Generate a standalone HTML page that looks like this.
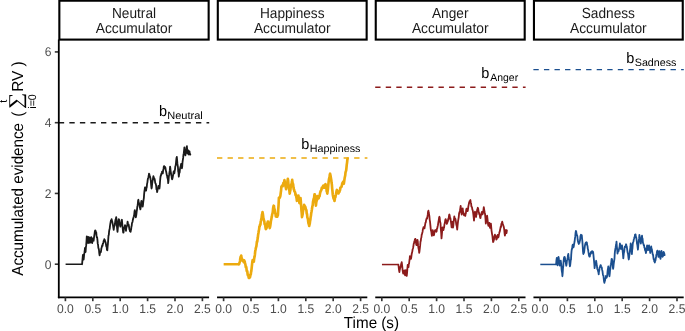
<!DOCTYPE html>
<html lang="en"><head><meta charset="utf-8"><title>Accumulator model</title>
<style>html,body{margin:0;padding:0;background:#fff;}svg{display:block;}</style></head>
<body>
<svg width="685" height="331" viewBox="0 0 685 331" font-family="'Liberation Sans', sans-serif" text-rendering="geometricPrecision">
<rect width="685" height="331" fill="#fff"/>
<g transform="translate(22.9,275.75) rotate(-90)" fill="#000" font-size="16">
<text transform="scale(0.949,1)" x="0" y="0">Accumulated evidence</text>
<text transform="translate(158.9,0) scale(0.958,1)">(</text>
<text transform="translate(166.72,-1.15) scale(1.177,1)" font-size="19.47" font-family="'Liberation Serif', serif">∑</text>
<text transform="translate(174.6,-15.6) scale(0.958,1)" font-size="11.2" text-anchor="middle">t</text>
<text transform="translate(174.3,13.1) scale(0.958,1)" font-size="11.1" text-anchor="middle">i=0</text>
<text transform="translate(183.9,0) scale(0.958,1)">RV )</text>
</g>
<text transform="translate(371.45,328.00) scale(0.95,1)" font-size="16.0" text-anchor="middle" fill="#000">Time (s)</text>
<line x1="54.8" x2="58.8" y1="264.20" y2="264.20" stroke="#333" stroke-width="1.6"/>
<text transform="translate(51.50,268.60) scale(0.96,1)" font-size="12.6" text-anchor="end" fill="#4d4d4d">0</text>
<line x1="54.8" x2="58.8" y1="193.44" y2="193.44" stroke="#333" stroke-width="1.6"/>
<text transform="translate(51.50,197.84) scale(0.96,1)" font-size="12.6" text-anchor="end" fill="#4d4d4d">2</text>
<line x1="54.8" x2="58.8" y1="122.68" y2="122.68" stroke="#333" stroke-width="1.6"/>
<text transform="translate(51.50,127.08) scale(0.96,1)" font-size="12.6" text-anchor="end" fill="#4d4d4d">4</text>
<line x1="54.8" x2="58.8" y1="51.92" y2="51.92" stroke="#333" stroke-width="1.6"/>
<text transform="translate(51.50,56.32) scale(0.96,1)" font-size="12.6" text-anchor="end" fill="#4d4d4d">6</text>
<line x1="58.80" x2="209.20" y1="122.68" y2="122.68" stroke="#1a1a1a" stroke-width="1.45" stroke-dasharray="5.35 5.2"/>
<polyline points="65.60,264.25 82.10,264.25" fill="none" stroke="#1a1a1a" stroke-width="1.5" stroke-linecap="butt"/>
<polyline points="82.10,264.25 82.37,260.94 82.63,257.99 82.90,254.96 83.25,257.07 83.60,259.66 83.88,257.46 84.16,254.09 84.44,252.48 84.72,250.36 85.00,247.86 85.30,248.93 85.60,252.01 85.90,247.29 86.20,245.14 86.50,240.99 86.80,236.32 87.10,240.81 87.40,242.98 87.67,241.19 87.93,239.26 88.20,236.90 88.55,238.99 88.90,243.17 89.17,240.26 89.43,238.74 89.70,237.46 89.97,238.19 90.23,240.90 90.50,242.61 90.77,241.64 91.03,239.03 91.30,237.25 91.60,239.15 91.90,241.54 92.20,243.12 92.47,240.95 92.73,241.01 93.00,238.51 93.30,240.22 93.60,240.80 93.92,238.11 94.24,235.80 94.56,233.84 94.88,231.22 95.20,230.34 95.53,230.61 95.87,232.38 96.20,232.17 96.51,235.43 96.82,237.25 97.13,237.30 97.44,239.88 97.75,243.64 98.05,244.67 98.36,247.98 98.67,248.66 98.98,249.96 99.29,253.38 99.60,255.35 99.89,253.61 100.19,252.18 100.48,251.79 100.77,252.31 101.07,250.83 101.36,248.31 101.66,247.63 101.95,246.29 102.24,245.21 102.54,245.99 102.83,243.51 103.12,243.44 103.42,242.19 103.71,240.58 104.01,240.89 104.30,239.08 104.58,240.49 104.87,240.03 105.15,241.56 105.43,241.86 105.72,242.80 106.00,244.49 106.33,246.48 106.65,246.88 106.97,249.87 107.30,250.34 107.60,246.62 107.90,244.05 108.20,239.87 108.50,235.56 108.80,235.11 109.10,231.33 109.40,229.53 109.70,228.85 110.00,225.87 110.30,223.88 110.60,222.14 110.93,220.43 111.27,220.58 111.60,219.16 111.88,220.64 112.15,221.14 112.42,222.39 112.70,223.88 113.03,225.54 113.37,227.80 113.70,229.91 114.01,227.29 114.33,225.62 114.64,225.83 114.95,224.01 115.26,221.05 115.58,219.31 115.89,219.02 116.20,217.17 116.53,219.85 116.85,225.38 117.17,228.94 117.50,231.82 117.83,228.34 118.15,224.35 118.47,220.97 118.80,219.18 119.12,219.76 119.44,222.42 119.76,222.89 120.08,225.79 120.40,226.62 120.70,224.73 121.00,223.13 121.30,223.12 121.60,220.24 121.90,219.75 122.23,223.29 122.55,227.20 122.88,229.82 123.20,232.59 123.50,232.55 123.80,229.64 124.10,227.99 124.40,227.40 124.70,226.62 125.00,225.23 125.33,226.51 125.67,228.70 126.00,230.80 126.32,228.01 126.64,226.70 126.96,226.11 127.28,224.46 127.60,221.56 127.90,223.15 128.20,224.13 128.50,224.31 128.80,225.29 129.10,227.30 129.40,229.45 129.70,229.77 130.00,231.22 130.30,229.78 130.60,231.85 130.88,230.16 131.15,229.20 131.42,226.67 131.70,225.91 132.00,222.98 132.30,222.56 132.60,221.47 132.90,219.64 133.22,218.64 133.55,217.29 133.88,216.23 134.20,214.55 134.50,211.74 134.80,210.08 135.10,212.76 135.40,213.92 135.80,217.29 136.09,216.08 136.38,214.29 136.67,211.62 136.96,209.78 137.24,207.23 137.53,205.75 137.82,203.84 138.11,200.61 138.40,199.75 138.69,202.23 138.97,203.36 139.26,204.40 139.54,204.98 139.83,207.21 140.11,208.24 140.40,209.41 140.73,207.36 141.07,202.65 141.40,200.93 141.72,201.15 142.05,204.04 142.38,205.28 142.70,206.66 142.99,204.89 143.27,201.97 143.56,199.81 143.85,198.11 144.14,194.08 144.43,191.05 144.71,189.31 145.00,187.48 145.28,187.41 145.55,188.11 145.82,190.65 146.10,190.57 146.42,188.25 146.74,187.27 147.06,183.85 147.38,182.61 147.70,179.93 148.02,178.28 148.35,177.48 148.68,176.04 149.00,173.62 149.30,174.21 149.60,175.82 149.90,176.31 150.20,177.01 150.50,179.01 150.80,180.39 151.15,185.09 151.50,188.50 151.82,187.45 152.13,183.85 152.45,181.61 152.77,180.30 153.08,177.89 153.40,176.24 153.70,176.98 154.00,178.23 154.30,178.66 154.60,178.97 154.90,180.39 155.21,182.99 155.53,183.41 155.84,184.19 156.16,185.77 156.47,189.47 156.79,189.16 157.10,192.10 157.43,190.72 157.75,188.69 158.07,188.45 158.40,186.00 158.73,186.31 159.07,187.91 159.40,188.51 159.70,186.54 160.00,182.02 160.30,178.69 160.60,176.12 160.90,175.74 161.20,174.28 161.50,173.70 161.80,172.74 162.10,171.57 162.45,173.45 162.80,173.48 163.13,170.43 163.47,168.89 163.80,166.52 164.10,166.08 164.40,167.68 164.70,168.40 164.95,166.98 165.20,167.09 165.51,168.29 165.82,170.55 166.14,171.54 166.45,173.17 166.76,174.93 167.07,175.47 167.39,177.84 167.70,178.84 167.95,179.66 168.20,183.06 168.52,180.62 168.83,176.53 169.15,174.64 169.47,172.38 169.78,170.40 170.10,166.66 170.39,168.74 170.67,171.32 170.96,172.95 171.24,175.13 171.53,175.81 171.81,178.08 172.10,179.34 172.40,178.63 172.70,177.41 173.00,175.54 173.30,174.27 173.60,171.61 173.90,171.14 174.15,173.00 174.40,173.19 174.70,170.95 175.00,169.57 175.30,166.46 175.60,165.88 175.90,163.77 176.20,160.56 176.50,157.94 176.80,156.91 177.09,159.86 177.37,163.17 177.66,165.28 177.94,166.96 178.23,171.62 178.51,172.62 178.80,176.67 179.09,174.06 179.38,172.85 179.66,172.34 179.95,169.19 180.24,167.61 180.53,166.89 180.81,165.79 181.10,163.89 181.37,165.64 181.63,167.79 181.90,168.24 182.21,166.73 182.53,162.06 182.84,159.78 183.15,157.91 183.46,154.75 183.78,153.20 184.09,150.38 184.40,147.47 184.73,150.97 185.07,152.99 185.40,155.41 185.70,153.34 186.00,152.54 186.30,150.75 186.60,147.17 186.90,146.20 187.25,150.92 187.60,153.67 187.95,152.33 188.30,150.43 188.60,152.74 188.90,154.65 189.20,153.40 189.50,151.31 189.77,153.78 190.03,153.69 190.30,154.58" fill="none" stroke="#1a1a1a" stroke-width="1.8" stroke-linejoin="round" stroke-linecap="round"/>
<line x1="57.90" x2="209.10" y1="297.4" y2="297.4" stroke="#000" stroke-width="1.8"/>
<line x1="65.40" x2="65.40" y1="297.4" y2="301.2" stroke="#333" stroke-width="1.65"/>
<text transform="translate(65.40,312.60) scale(0.96,1)" font-size="12.6" text-anchor="middle" fill="#4d4d4d">0.0</text>
<line x1="92.80" x2="92.80" y1="297.4" y2="301.2" stroke="#333" stroke-width="1.65"/>
<text transform="translate(92.80,312.60) scale(0.96,1)" font-size="12.6" text-anchor="middle" fill="#4d4d4d">0.5</text>
<line x1="120.20" x2="120.20" y1="297.4" y2="301.2" stroke="#333" stroke-width="1.65"/>
<text transform="translate(120.20,312.60) scale(0.96,1)" font-size="12.6" text-anchor="middle" fill="#4d4d4d">1.0</text>
<line x1="147.60" x2="147.60" y1="297.4" y2="301.2" stroke="#333" stroke-width="1.65"/>
<text transform="translate(147.60,312.60) scale(0.96,1)" font-size="12.6" text-anchor="middle" fill="#4d4d4d">1.5</text>
<line x1="175.00" x2="175.00" y1="297.4" y2="301.2" stroke="#333" stroke-width="1.65"/>
<text transform="translate(175.00,312.60) scale(0.96,1)" font-size="12.6" text-anchor="middle" fill="#4d4d4d">2.0</text>
<line x1="202.40" x2="202.40" y1="297.4" y2="301.2" stroke="#333" stroke-width="1.65"/>
<text transform="translate(202.40,312.60) scale(0.96,1)" font-size="12.6" text-anchor="middle" fill="#4d4d4d">2.5</text>
<rect x="59.35" y="0.7" width="149.30" height="38.90" fill="#fff" stroke="#000" stroke-width="2.1"/>
<text transform="translate(134.00,17.60) scale(0.94,1)" font-size="14.55" text-anchor="middle" fill="#1a1a1a">Neutral</text>
<text transform="translate(134.00,32.60) scale(0.948,1)" font-size="14.55" text-anchor="middle" fill="#1a1a1a">Accumulator</text>
<text transform="translate(202.79,118.80) scale(1.0432,1)" font-size="10.6" text-anchor="end" fill="#000">Neutral</text>
<text transform="translate(158.92,115.80) scale(0.96,1)" font-size="15.1" text-anchor="start" fill="#000">b</text>
<line x1="217.00" x2="367.40" y1="158.06" y2="158.06" stroke="#ECAA0E" stroke-width="1.45" stroke-dasharray="5.35 5.2"/>
<polyline points="223.65,264.25 239.10,264.25" fill="none" stroke="#ECAA0E" stroke-width="2.45" stroke-linecap="butt"/>
<polyline points="239.10,264.25 239.40,262.96 239.70,262.17 240.00,260.96 240.30,258.48 240.60,256.93 240.90,256.58 241.20,255.49 241.48,257.43 241.76,258.19 242.04,259.01 242.32,259.95 242.60,260.97 242.90,260.10 243.20,260.91 243.50,260.34 243.80,262.22 244.10,260.29 244.40,262.22 244.70,261.24 244.97,263.35 245.25,263.86 245.53,265.37 245.80,267.20 246.10,266.73 246.40,267.78 246.70,270.77 247.00,270.73 247.30,271.36 247.60,274.12 247.90,275.32 248.20,274.62 248.50,276.67 248.80,277.89 249.08,277.40 249.36,277.84 249.64,276.44 249.92,277.42 250.20,276.33 250.47,274.49 250.75,274.66 251.03,272.29 251.30,271.09 251.63,268.38 251.97,265.09 252.30,262.07 252.63,260.19 252.97,261.03 253.30,259.99 253.55,261.79 253.80,261.77 254.08,259.39 254.37,257.49 254.65,256.36 254.93,254.40 255.22,251.14 255.50,249.96 255.79,248.32 256.07,247.18 256.36,246.39 256.64,244.15 256.93,241.52 257.21,241.92 257.50,239.60 257.82,237.55 258.13,234.68 258.45,233.03 258.77,230.78 259.08,229.55 259.40,226.46 259.73,226.17 260.07,224.58 260.40,224.79 260.70,221.78 261.00,220.60 261.30,219.00 261.60,217.95 261.90,214.79 262.20,214.01 262.50,212.14 262.80,213.47 263.10,215.57 263.40,218.37 263.70,218.86 264.00,220.88 264.30,221.01 264.60,224.08 264.90,224.00 265.20,224.83 265.50,227.43 265.80,229.08 266.10,228.99 266.39,227.68 266.67,227.77 266.96,225.63 267.24,224.27 267.53,222.60 267.81,221.56 268.10,221.64 268.42,224.05 268.74,225.43 269.06,225.58 269.38,225.77 269.70,228.12 270.01,227.20 270.32,225.57 270.64,223.37 270.95,220.65 271.26,219.63 271.57,217.77 271.89,216.39 272.20,214.18 272.50,213.64 272.80,211.74 273.10,208.20 273.40,206.73 273.70,205.72 273.98,206.12 274.25,208.92 274.52,209.09 274.80,210.39 275.13,212.81 275.47,213.70 275.80,216.30 276.10,215.72 276.40,216.60 276.70,216.49 277.00,214.99 277.30,216.66 277.60,215.40 277.90,215.26 278.23,209.39 278.57,204.80 278.90,197.79 279.20,197.65 279.50,197.96 279.80,197.66 280.10,196.78 280.40,195.69 280.73,192.86 281.07,190.51 281.40,186.66 281.72,186.44 282.04,185.68 282.36,185.53 282.68,186.22 283.00,185.50 283.30,183.15 283.60,183.67 283.90,183.00 284.20,181.60 284.50,180.04 284.82,182.70 285.14,183.75 285.46,186.32 285.78,187.30 286.10,189.26 286.38,187.40 286.67,185.50 286.95,185.19 287.23,182.80 287.52,180.65 287.80,178.84 288.12,180.33 288.43,183.80 288.75,186.68 289.07,188.43 289.38,190.56 289.70,193.58 290.01,191.49 290.32,190.62 290.64,187.58 290.95,185.72 291.26,184.51 291.57,183.69 291.89,182.11 292.20,179.86 292.52,182.75 292.84,183.35 293.16,184.50 293.48,187.56 293.80,189.51 294.09,189.51 294.37,191.41 294.66,191.35 294.94,191.84 295.23,192.78 295.51,194.99 295.80,194.30 296.07,195.86 296.35,197.22 296.62,198.58 296.90,200.80 297.20,199.16 297.50,199.82 297.80,197.79 298.10,197.25 298.40,195.51 298.73,198.03 299.07,200.74 299.40,203.10 299.67,200.97 299.95,200.20 300.23,199.88 300.50,197.99 300.80,200.94 301.10,205.52 301.40,209.90 301.70,212.86 302.00,217.07 302.30,215.63 302.60,214.66 302.90,211.94 303.20,210.53 303.50,208.02 303.80,207.22 304.10,204.82 304.39,205.62 304.67,205.96 304.96,206.50 305.24,206.76 305.53,207.65 305.81,209.08 306.10,209.47 306.41,210.22 306.72,213.70 307.03,214.12 307.34,217.34 307.65,218.19 307.96,219.34 308.27,222.17 308.58,223.88 308.89,224.16 309.20,225.98 309.49,224.80 309.78,223.49 310.07,221.14 310.36,219.78 310.64,217.10 310.93,215.80 311.22,213.16 311.51,211.72 311.80,210.06 312.10,208.01 312.40,206.19 312.70,205.31 313.00,201.92 313.30,200.64 313.60,198.92 313.90,199.30 314.20,196.88 314.50,194.42 314.80,194.39 315.07,197.87 315.35,200.57 315.62,202.29 315.90,205.62 316.20,203.14 316.50,200.90 316.80,200.81 317.10,198.89 317.40,196.04 317.72,197.76 318.05,196.31 318.38,197.59 318.70,198.30 319.00,196.81 319.30,195.74 319.60,196.02 319.90,193.96 320.20,192.66 320.50,191.59 320.80,190.85 321.10,190.51 321.41,189.82 321.73,187.92 322.04,188.64 322.36,187.59 322.67,186.70 322.99,186.20 323.30,185.56 323.60,186.91 323.90,186.93 324.20,187.75 324.52,186.70 324.85,186.22 325.18,184.76 325.50,184.09 325.80,185.72 326.10,187.73 326.40,188.22 326.70,191.30 327.00,191.80 327.30,193.61 327.58,191.41 327.87,189.65 328.15,186.59 328.43,183.57 328.72,181.12 329.00,179.03 329.27,178.33 329.55,177.31 329.83,174.39 330.10,173.73 330.40,174.95 330.70,176.73 331.00,178.51 331.30,180.23 331.60,183.07 331.88,184.78 332.16,188.61 332.44,190.91 332.72,194.21 333.00,195.88 333.30,197.16 333.60,198.67 333.90,197.48 334.20,198.98 334.50,200.96 334.80,199.29 335.10,197.35 335.40,197.37 335.70,195.27 336.00,194.25 336.30,192.41 336.60,190.93 336.90,189.95 337.22,191.09 337.54,192.50 337.86,193.16 338.18,193.21 338.50,193.46 338.81,192.11 339.12,191.24 339.43,192.03 339.74,190.55 340.06,190.00 340.37,187.71 340.68,187.52 340.99,187.42 341.30,186.92 341.58,186.67 341.87,185.63 342.15,183.77 342.43,183.00 342.72,183.29 343.00,181.90 343.27,182.21 343.53,182.22 343.80,183.74 344.08,182.10 344.36,180.04 344.64,178.08 344.92,176.81 345.20,175.53 345.52,172.48 345.85,171.40 346.18,170.31 346.50,167.33 346.79,164.38 347.07,162.60 347.36,159.67 347.65,158.62" fill="none" stroke="#ECAA0E" stroke-width="2.65" stroke-linejoin="round" stroke-linecap="round"/>
<line x1="217.05" x2="367.30" y1="297.4" y2="297.4" stroke="#000" stroke-width="1.8"/>
<line x1="223.60" x2="223.60" y1="297.4" y2="301.2" stroke="#333" stroke-width="1.65"/>
<text transform="translate(223.60,312.60) scale(0.96,1)" font-size="12.6" text-anchor="middle" fill="#4d4d4d">0.0</text>
<line x1="251.00" x2="251.00" y1="297.4" y2="301.2" stroke="#333" stroke-width="1.65"/>
<text transform="translate(251.00,312.60) scale(0.96,1)" font-size="12.6" text-anchor="middle" fill="#4d4d4d">0.5</text>
<line x1="278.40" x2="278.40" y1="297.4" y2="301.2" stroke="#333" stroke-width="1.65"/>
<text transform="translate(278.40,312.60) scale(0.96,1)" font-size="12.6" text-anchor="middle" fill="#4d4d4d">1.0</text>
<line x1="305.80" x2="305.80" y1="297.4" y2="301.2" stroke="#333" stroke-width="1.65"/>
<text transform="translate(305.80,312.60) scale(0.96,1)" font-size="12.6" text-anchor="middle" fill="#4d4d4d">1.5</text>
<line x1="333.20" x2="333.20" y1="297.4" y2="301.2" stroke="#333" stroke-width="1.65"/>
<text transform="translate(333.20,312.60) scale(0.96,1)" font-size="12.6" text-anchor="middle" fill="#4d4d4d">2.0</text>
<line x1="360.60" x2="360.60" y1="297.4" y2="301.2" stroke="#333" stroke-width="1.65"/>
<text transform="translate(360.60,312.60) scale(0.96,1)" font-size="12.6" text-anchor="middle" fill="#4d4d4d">2.5</text>
<rect x="217.80" y="0.7" width="148.85" height="38.90" fill="#fff" stroke="#000" stroke-width="2.1"/>
<text transform="translate(292.23,17.60) scale(0.94,1)" font-size="14.55" text-anchor="middle" fill="#1a1a1a">Happiness</text>
<text transform="translate(292.23,32.60) scale(0.948,1)" font-size="14.55" text-anchor="middle" fill="#1a1a1a">Accumulator</text>
<text transform="translate(360.49,152.20) scale(1.0157,1)" font-size="10.6" text-anchor="end" fill="#000">Happiness</text>
<text transform="translate(301.32,149.20) scale(0.96,1)" font-size="15.1" text-anchor="start" fill="#000">b</text>
<line x1="375.20" x2="525.60" y1="87.30" y2="87.30" stroke="#8C1B1B" stroke-width="1.45" stroke-dasharray="5.35 5.2"/>
<polyline points="381.96,264.55 398.30,264.55" fill="none" stroke="#8C1B1B" stroke-width="1.5" stroke-linecap="butt"/>
<polyline points="398.30,264.55 398.57,265.82 398.85,268.69 399.12,270.54 399.40,272.20 399.69,270.01 399.97,268.93 400.26,267.54 400.55,266.54 400.84,266.57 401.12,263.94 401.41,263.71 401.70,262.24 402.00,264.28 402.30,266.93 402.60,270.22 402.90,271.99 403.20,273.70 403.48,272.56 403.75,271.30 404.02,272.09 404.30,270.47 404.57,272.62 404.83,274.30 405.10,275.33 405.45,273.58 405.80,270.06 406.12,271.28 406.43,274.72 406.75,275.89 407.07,272.86 407.38,268.75 407.70,264.90 407.97,265.39 408.23,266.31 408.50,267.12 408.78,264.09 409.06,263.54 409.34,261.25 409.62,259.46 409.90,256.19 410.23,257.21 410.57,258.71 410.90,258.89 411.17,258.02 411.45,255.91 411.73,253.72 412.00,252.74 412.29,251.62 412.57,249.59 412.86,248.70 413.14,247.66 413.43,245.77 413.71,243.75 414.00,243.24 414.32,241.54 414.65,240.47 414.98,239.29 415.30,238.85 415.62,239.50 415.95,242.46 416.28,244.76 416.60,245.17 416.90,244.08 417.20,242.89 417.50,239.82 417.78,241.42 418.07,245.15 418.35,247.36 418.63,249.02 418.92,250.00 419.20,252.89 419.52,251.01 419.85,248.23 420.18,245.20 420.50,241.44 420.80,240.94 421.10,238.23 421.40,237.49 421.70,234.54 422.00,234.19 422.30,232.76 422.60,231.70 422.90,229.14 423.20,228.77 423.50,227.21 423.83,227.70 424.17,227.48 424.50,228.31 424.82,226.23 425.14,224.58 425.46,222.72 425.78,222.43 426.10,220.17 426.43,219.12 426.77,218.08 427.10,218.55 427.43,216.66 427.75,214.70 428.07,211.57 428.40,210.71 428.72,212.55 429.05,214.12 429.38,216.08 429.70,219.81 430.03,221.64 430.37,225.17 430.70,228.58 431.00,230.76 431.30,231.29 431.60,234.00 431.90,235.75 432.17,234.79 432.43,230.93 432.70,230.13 432.98,231.52 433.25,233.93 433.52,234.12 433.80,235.33 434.10,234.64 434.40,232.62 434.70,230.87 435.00,230.87 435.30,230.05 435.63,230.99 435.97,230.50 436.30,231.88 436.62,231.37 436.94,228.73 437.26,228.30 437.58,226.52 437.90,225.47 438.20,223.38 438.50,221.42 438.80,220.01 439.10,217.50 439.40,216.78 439.67,217.53 439.95,220.82 440.23,222.11 440.50,223.19 440.83,229.17 441.17,232.74 441.50,238.44 441.83,234.98 442.17,230.85 442.50,227.50 442.83,228.19 443.17,228.18 443.50,230.01 443.80,227.35 444.10,227.58 444.40,224.66 444.70,223.39 445.00,222.12 445.30,219.80 445.60,219.18 445.90,219.94 446.20,220.95 446.50,222.81 446.80,223.91 447.10,223.22 447.39,222.55 447.68,220.49 447.96,221.02 448.25,218.77 448.54,219.06 448.82,217.13 449.11,215.04 449.40,214.49 449.72,215.65 450.05,218.53 450.38,218.21 450.70,220.43 451.00,222.38 451.30,224.54 451.60,227.37 451.87,224.63 452.13,224.01 452.40,221.77 452.70,225.69 453.00,227.66 453.32,225.83 453.65,221.86 453.98,219.35 454.30,216.44 454.62,218.21 454.94,219.38 455.26,218.55 455.58,219.64 455.90,221.57 456.22,224.22 456.55,225.48 456.88,226.84 457.20,229.58 457.50,226.31 457.80,223.36 458.10,220.83 458.40,219.11 458.75,217.09 459.10,213.37 459.41,212.63 459.72,211.45 460.03,210.23 460.34,208.23 460.65,205.90 460.91,208.42 461.17,211.10 461.44,212.99 461.70,214.50 462.03,213.21 462.37,209.58 462.70,208.31 463.03,211.54 463.37,212.18 463.70,213.98 464.02,215.23 464.34,214.83 464.66,214.16 464.98,214.62 465.30,215.98 465.60,213.82 465.90,213.35 466.20,209.77 466.50,208.70 466.82,209.82 467.15,209.30 467.48,211.21 467.80,210.74 468.07,208.71 468.35,206.38 468.62,205.06 468.90,203.64 469.20,202.82 469.50,201.38 469.80,201.19 470.10,200.81 470.40,200.03 470.73,202.49 471.07,203.27 471.40,206.68 471.72,206.70 472.04,207.54 472.36,209.72 472.68,210.07 473.00,211.83 473.33,214.48 473.67,217.47 474.00,220.59 474.33,216.73 474.67,215.07 475.00,211.66 475.27,212.68 475.55,215.25 475.83,214.30 476.10,217.01 476.38,214.34 476.67,214.47 476.95,211.27 477.23,209.48 477.52,209.00 477.80,207.76 478.12,208.42 478.45,210.52 478.78,212.36 479.10,213.47 479.38,214.64 479.66,214.31 479.94,216.29 480.22,217.95 480.50,218.13 480.78,216.24 481.06,214.49 481.34,214.71 481.62,212.72 481.90,211.85 482.20,213.68 482.50,214.36 482.82,213.72 483.15,211.84 483.48,209.64 483.80,207.19 484.10,209.06 484.40,210.83 484.70,212.38 485.00,213.72 485.27,216.30 485.53,219.24 485.80,223.51 486.12,221.66 486.45,218.44 486.78,217.92 487.10,215.73 487.43,218.25 487.75,221.46 488.07,224.28 488.40,225.86 488.73,225.67 489.07,223.88 489.40,222.90 489.70,225.04 490.00,227.96 490.30,226.18 490.60,226.07 490.90,223.53 491.20,226.90 491.50,230.31 491.80,232.28 492.12,234.35 492.45,236.14 492.78,239.60 493.10,242.09 493.40,241.65 493.70,240.33 494.00,239.57 494.30,237.02 494.60,235.69 494.90,234.70 495.18,236.25 495.46,235.64 495.74,236.97 496.02,237.80 496.30,239.52 496.58,238.25 496.86,238.93 497.14,236.19 497.42,237.01 497.70,234.90 498.00,234.94 498.30,237.39 498.60,236.55 498.90,234.64 499.20,233.39 499.50,231.96 499.80,231.44 500.10,229.74 500.40,228.33 500.70,226.70 501.00,227.06 501.30,224.22 501.60,223.37 501.90,222.89 502.20,221.73 502.48,222.75 502.76,223.79 503.04,224.69 503.32,225.84 503.60,226.30 503.93,227.60 504.25,229.73 504.57,233.47 504.90,235.56 505.17,234.18 505.45,233.38 505.73,230.49 506.00,230.00 506.25,231.32 506.50,233.09 506.90,230.47" fill="none" stroke="#8C1B1B" stroke-width="1.8" stroke-linejoin="round" stroke-linecap="round"/>
<line x1="375.25" x2="525.50" y1="297.4" y2="297.4" stroke="#000" stroke-width="1.8"/>
<line x1="381.80" x2="381.80" y1="297.4" y2="301.2" stroke="#333" stroke-width="1.65"/>
<text transform="translate(381.80,312.60) scale(0.96,1)" font-size="12.6" text-anchor="middle" fill="#4d4d4d">0.0</text>
<line x1="409.20" x2="409.20" y1="297.4" y2="301.2" stroke="#333" stroke-width="1.65"/>
<text transform="translate(409.20,312.60) scale(0.96,1)" font-size="12.6" text-anchor="middle" fill="#4d4d4d">0.5</text>
<line x1="436.60" x2="436.60" y1="297.4" y2="301.2" stroke="#333" stroke-width="1.65"/>
<text transform="translate(436.60,312.60) scale(0.96,1)" font-size="12.6" text-anchor="middle" fill="#4d4d4d">1.0</text>
<line x1="464.00" x2="464.00" y1="297.4" y2="301.2" stroke="#333" stroke-width="1.65"/>
<text transform="translate(464.00,312.60) scale(0.96,1)" font-size="12.6" text-anchor="middle" fill="#4d4d4d">1.5</text>
<line x1="491.40" x2="491.40" y1="297.4" y2="301.2" stroke="#333" stroke-width="1.65"/>
<text transform="translate(491.40,312.60) scale(0.96,1)" font-size="12.6" text-anchor="middle" fill="#4d4d4d">2.0</text>
<line x1="518.80" x2="518.80" y1="297.4" y2="301.2" stroke="#333" stroke-width="1.65"/>
<text transform="translate(518.80,312.60) scale(0.96,1)" font-size="12.6" text-anchor="middle" fill="#4d4d4d">2.5</text>
<rect x="375.75" y="0.7" width="148.95" height="38.90" fill="#fff" stroke="#000" stroke-width="2.1"/>
<text transform="translate(450.23,17.60) scale(0.94,1)" font-size="14.55" text-anchor="middle" fill="#1a1a1a">Anger</text>
<text transform="translate(450.23,32.60) scale(0.948,1)" font-size="14.55" text-anchor="middle" fill="#1a1a1a">Accumulator</text>
<text transform="translate(518.17,81.40) scale(0.9862,1)" font-size="10.6" text-anchor="end" fill="#000">Anger</text>
<text transform="translate(481.32,78.40) scale(0.96,1)" font-size="15.1" text-anchor="start" fill="#000">b</text>
<line x1="533.40" x2="683.80" y1="69.61" y2="69.61" stroke="#1B4F8F" stroke-width="1.45" stroke-dasharray="5.35 5.2"/>
<polyline points="540.30,264.45 556.10,264.45" fill="none" stroke="#1B4F8F" stroke-width="1.5" stroke-linecap="butt"/>
<polyline points="556.10,264.45 556.45,260.16 556.80,257.90 557.07,260.68 557.33,263.94 557.60,265.29 557.90,261.96 558.20,260.21 558.50,256.86 558.80,258.45 559.10,261.54 559.40,263.03 559.70,265.65 560.03,262.83 560.37,261.39 560.70,260.64 560.98,262.66 561.27,265.07 561.55,269.03 561.83,271.27 562.12,272.76 562.40,276.29 562.68,273.26 562.96,268.69 563.24,266.47 563.52,261.83 563.80,259.23 564.10,257.48 564.40,256.91 564.70,257.09 565.02,258.26 565.34,261.41 565.66,261.82 565.98,263.97 566.30,265.72 566.63,263.87 566.97,260.45 567.30,259.41 567.63,257.94 567.97,255.12 568.30,253.86 568.62,257.53 568.94,259.14 569.26,260.86 569.58,263.96 569.90,266.35 570.17,265.47 570.45,262.95 570.73,260.20 571.00,259.58 571.25,254.61 571.50,251.69 571.83,248.92 572.15,248.83 572.47,245.52 572.80,244.67 573.15,244.97 573.50,247.24 573.77,246.27 574.05,244.48 574.33,242.87 574.60,241.54 574.92,238.72 575.25,236.43 575.58,232.55 575.90,230.83 576.20,231.37 576.50,234.03 576.80,235.35 577.10,235.14 577.38,236.39 577.65,239.54 577.93,241.02 578.20,242.30 578.50,243.27 578.80,243.97 579.10,242.84 579.40,243.04 579.73,241.39 580.05,240.35 580.38,236.81 580.70,235.31 580.98,234.70 581.25,235.76 581.52,235.38 581.80,235.27 582.10,238.88 582.40,241.73 582.70,246.10 583.00,251.41 583.30,254.01 583.63,252.39 583.97,252.93 584.30,250.75 584.57,248.45 584.85,246.13 585.12,244.60 585.40,243.43 585.70,242.80 586.00,244.15 586.30,242.48 586.60,242.25 586.90,242.72 587.20,245.49 587.50,245.83 587.80,248.80 588.10,249.69 588.40,251.89 588.67,253.28 588.95,255.31 589.23,256.07 589.50,256.66 589.80,256.51 590.10,254.41 590.40,253.49 590.70,253.91 591.00,251.88 591.30,252.51 591.60,251.40 591.90,252.85 592.20,252.12 592.50,251.24 592.80,252.89 593.10,251.83 593.40,254.68 593.70,257.72 594.00,260.56 594.30,264.01 594.60,268.09 594.92,265.67 595.24,264.53 595.56,263.56 595.88,262.38 596.20,260.76 596.53,264.10 596.87,265.40 597.20,268.46 597.50,269.49 597.80,269.90 598.10,271.24 598.40,272.18 598.70,274.31 598.98,271.50 599.25,270.95 599.52,268.08 599.80,267.06 600.13,266.66 600.47,265.27 600.80,265.26 601.10,266.45 601.40,267.33 601.70,267.22 602.00,269.21 602.30,270.38 602.57,271.78 602.85,274.19 603.12,275.32 603.40,275.43 603.73,278.55 604.07,281.53 604.40,282.88 604.70,280.46 605.00,280.89 605.30,278.41 605.60,278.32 605.90,276.02 606.23,277.04 606.57,277.78 606.90,276.94 607.18,275.80 607.46,272.46 607.74,269.89 608.02,268.32 608.30,266.51 608.60,267.71 608.90,271.23 609.20,274.48 609.50,276.25 609.77,273.62 610.05,270.36 610.33,269.28 610.60,265.27 610.92,264.16 611.25,262.35 611.58,259.08 611.90,258.91 612.20,260.42 612.50,264.72 612.80,267.08 613.10,268.84 613.38,267.43 613.65,264.35 613.93,262.49 614.20,260.54 614.48,258.72 614.75,253.57 615.02,250.85 615.30,249.08 615.60,247.69 615.90,245.64 616.20,244.47 616.50,241.57 616.83,246.29 617.17,249.28 617.50,253.64 617.78,251.60 618.06,251.76 618.34,251.37 618.62,251.18 618.90,249.69 619.23,248.12 619.57,246.74 619.90,243.49 620.23,244.56 620.57,245.89 620.90,249.01 621.17,247.92 621.45,246.93 621.73,246.47 622.00,245.38 622.33,248.08 622.65,251.22 622.97,254.36 623.30,258.31 623.60,255.12 623.90,252.42 624.20,251.96 624.50,248.79 624.82,246.68 625.14,247.29 625.46,246.38 625.78,245.35 626.10,244.25 626.43,245.43 626.77,246.52 627.10,248.93 627.38,250.85 627.67,252.84 627.95,253.39 628.23,255.64 628.52,258.21 628.80,259.47 629.08,257.64 629.36,255.17 629.64,253.68 629.92,250.55 630.20,248.75 630.45,246.94 630.70,243.41 631.00,245.35 631.30,249.03 631.60,250.39 631.90,254.11 632.17,250.21 632.43,248.62 632.70,244.57 632.98,242.44 633.25,242.05 633.52,241.16 633.80,239.44 634.10,238.75 634.40,237.10 634.70,237.49 635.00,234.59 635.30,234.56 635.58,234.43 635.86,236.81 636.14,236.97 636.42,238.35 636.70,240.51 637.00,243.75 637.30,244.64 637.60,247.19 637.90,249.73 638.20,247.02 638.50,243.43 638.80,240.45 639.10,238.68 639.40,234.89 639.68,236.34 639.96,239.29 640.24,241.57 640.52,242.05 640.80,243.70 641.10,241.53 641.40,240.91 641.70,237.11 642.00,235.63 642.30,238.48 642.60,238.77 642.90,242.46 643.20,243.35 643.48,244.10 643.76,245.42 644.04,245.08 644.32,247.49 644.60,247.61 644.92,249.60 645.25,250.88 645.58,250.53 645.90,253.08 646.20,251.82 646.50,248.63 646.80,247.67 647.10,245.44 647.43,247.28 647.77,249.32 648.10,250.16 648.40,248.63 648.70,245.97 649.00,245.41 649.30,247.38 649.60,249.79 649.90,249.92 650.20,253.03 650.53,249.80 650.87,248.85 651.20,246.46 651.52,249.25 651.84,248.98 652.16,251.51 652.48,253.14 652.80,254.77 653.09,254.92 653.37,257.48 653.66,259.33 653.94,258.97 654.23,261.38 654.51,261.15 654.80,262.49 655.12,260.98 655.44,260.66 655.76,258.64 656.08,256.73 656.40,254.52 656.70,253.71 657.00,251.64 657.30,250.72 657.60,250.66 657.87,252.20 658.13,253.93 658.40,256.96 658.67,256.20 658.95,255.12 659.23,253.67 659.50,251.20 659.83,253.04 660.17,257.50 660.50,258.89 660.83,255.84 661.17,254.26 661.50,250.79 661.77,253.39 662.05,254.33 662.33,256.47 662.60,256.70 662.93,256.28 663.27,253.58 663.60,251.89 663.93,252.47 664.27,253.54 664.60,255.20" fill="none" stroke="#1B4F8F" stroke-width="1.8" stroke-linejoin="round" stroke-linecap="round"/>
<line x1="533.45" x2="683.70" y1="297.4" y2="297.4" stroke="#000" stroke-width="1.8"/>
<line x1="540.00" x2="540.00" y1="297.4" y2="301.2" stroke="#333" stroke-width="1.65"/>
<text transform="translate(540.00,312.60) scale(0.96,1)" font-size="12.6" text-anchor="middle" fill="#4d4d4d">0.0</text>
<line x1="567.40" x2="567.40" y1="297.4" y2="301.2" stroke="#333" stroke-width="1.65"/>
<text transform="translate(567.40,312.60) scale(0.96,1)" font-size="12.6" text-anchor="middle" fill="#4d4d4d">0.5</text>
<line x1="594.80" x2="594.80" y1="297.4" y2="301.2" stroke="#333" stroke-width="1.65"/>
<text transform="translate(594.80,312.60) scale(0.96,1)" font-size="12.6" text-anchor="middle" fill="#4d4d4d">1.0</text>
<line x1="622.20" x2="622.20" y1="297.4" y2="301.2" stroke="#333" stroke-width="1.65"/>
<text transform="translate(622.20,312.60) scale(0.96,1)" font-size="12.6" text-anchor="middle" fill="#4d4d4d">1.5</text>
<line x1="649.60" x2="649.60" y1="297.4" y2="301.2" stroke="#333" stroke-width="1.65"/>
<text transform="translate(649.60,312.60) scale(0.96,1)" font-size="12.6" text-anchor="middle" fill="#4d4d4d">2.0</text>
<line x1="677.00" x2="677.00" y1="297.4" y2="301.2" stroke="#333" stroke-width="1.65"/>
<text transform="translate(677.00,312.60) scale(0.96,1)" font-size="12.6" text-anchor="middle" fill="#4d4d4d">2.5</text>
<rect x="533.95" y="0.7" width="148.80" height="38.90" fill="#fff" stroke="#000" stroke-width="2.1"/>
<text transform="translate(608.35,17.60) scale(0.94,1)" font-size="14.55" text-anchor="middle" fill="#1a1a1a">Sadness</text>
<text transform="translate(608.35,32.60) scale(0.948,1)" font-size="14.55" text-anchor="middle" fill="#1a1a1a">Accumulator</text>
<text transform="translate(676.49,66.30) scale(1.0127,1)" font-size="10.6" text-anchor="end" fill="#000">Sadness</text>
<text transform="translate(626.22,63.30) scale(0.96,1)" font-size="15.1" text-anchor="start" fill="#000">b</text>
<line x1="58.8" x2="58.8" y1="39.6" y2="298.3" stroke="#000" stroke-width="1.8"/>
</svg>
</body></html>
